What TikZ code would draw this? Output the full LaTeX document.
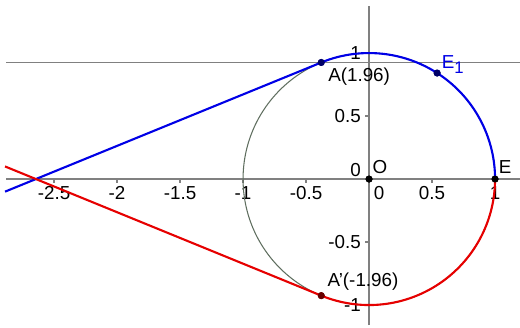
\documentclass[tikz,border=0pt]{standalone}
\usepackage{fontspec}
\setmainfont{Liberation Sans}
\usetikzlibrary{positioning}
\definecolor{axiscol} {RGB}{128,128,128}
\definecolor{circcol} {RGB}{95,110,95}
\definecolor{uppercol}{RGB}{0,0,230}
\definecolor{lowercol}{RGB}{230,0,0}

\begin{document}
\begin{tikzpicture}[
  x=2.52cm,y=2.52cm,
  font=\fontsize{10.7}{12}\selectfont,
  axisline/.style={axiscol,line width=1pt},
  tickmark/.style={axiscol,line width=0.7pt},
  circ/.style    ={circcol,line width=0.6pt},
  tang/.style    ={#1,line width=1.2pt},
  dot/.style     ={circle,fill=#1,inner sep=0pt,minimum size=4pt},
  lbl/.style     ={inner sep=0pt}
]
\useasboundingbox (-2.929,-1.175) rectangle (1.198,1.421);

\coordinate (xl) at (-2.881,0);
\coordinate (xr) at (1.198,0);
\coordinate (yb) at (0,-1.159);
\coordinate (yt) at (0,1.373);
\coordinate (hl) at (-2.881,0.925);
\coordinate (hr) at (1.198,0.925);
\coordinate (bl) at (-2.889,-0.100);
\coordinate (rl) at (-2.889,0.100);

% axes and the horizontal line through A
\draw[axisline] (xl) -- (xr);
\draw[axisline] (yb) -- (yt);
\draw[axisline] (hl) -- (hr);

\foreach \x [count=\k] in {-2.5,-2,-1.5,-1,-0.5,0.5,1}{
  \draw[tickmark] (\x,0) -- (\x,-0.03);
  \node[lbl] (xt\k) at (\x,-0.111) {\x};
}
\node[lbl] (xt0) at (0.08,-0.111) {0};
\foreach \y [count=\k] in {-1,-0.5,0.5,1}{
  \draw[tickmark] (0,\y) -- (-0.03,\y);
  \node[lbl,anchor=east] (yt\k) at (-0.063,\y) {\y};
}
\node[lbl,anchor=east] (yt0) at (-0.063,0.07) {0};

% unit circle
\node[dot=black] (O) at (0,0) {};
\draw[circ] (O.center) circle[radius=1];

\node[dot=black]             (E)  at (0:1)      {};
\node[dot=uppercol!45!black] (A)  at (112.3:1)  {};
\node[dot=uppercol!45!black] (E1) at (57.3:1)   {};
\node[dot=lowercol!45!black] (Ap) at (-112.3:1) {};

\draw[tang=uppercol] (bl) -- (A.center)
  arc[start angle=112.3,end angle=0,radius=1];
\draw[tang=lowercol] (rl) -- (Ap.center)
  arc[start angle=-112.3,end angle=0,radius=1];

\node[dot=black]             at (E)  {};
\node[dot=uppercol!45!black] at (A)  {};
\node[dot=uppercol!45!black] at (E1) {};
\node[dot=lowercol!45!black] at (Ap) {};
\node[dot=black]             at (O)  {};

\node[lbl] (lO)  at (0.087,0.095)   {O};
\node[lbl] (lE)  at (1.08,0.095)    {E};
\node[lbl,uppercol] (lE1) at (0.665,0.91)
  {E\raisebox{-0.5ex}{\fontsize{9.5}{10}\selectfont 1}};
\node[lbl] (lA)  at (-0.079,0.81)   {A(1.96)};
\node[lbl] (lAp) at (-0.048,-0.817) {A'(-1.96)};
\end{tikzpicture}
\end{document}
